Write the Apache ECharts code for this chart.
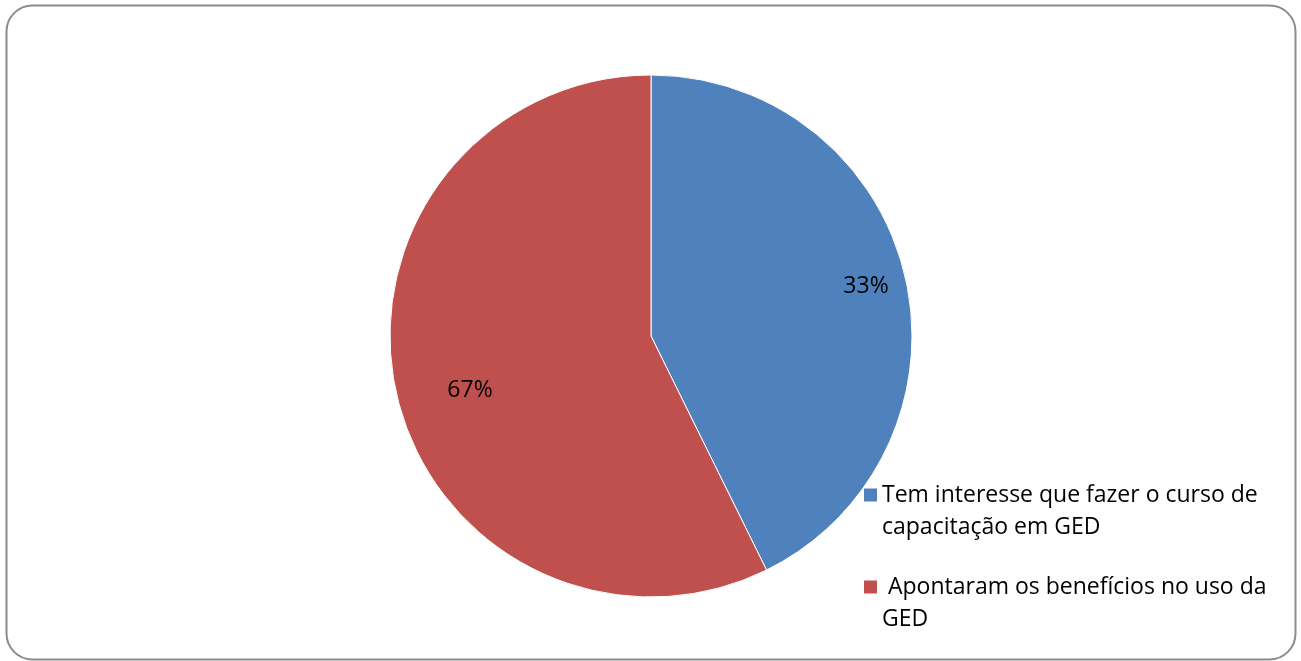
<!DOCTYPE html>
<html>
<head>
<meta charset="utf-8">
<script src="https://cdn.jsdelivr.net/npm/echarts@6/dist/echarts.min.js"></script>
<style>
  html, body { margin: 0; padding: 0; background: #fff; }
  #chart { width: 1301px; height: 661px; }
</style>
</head>
<body>
<div id="chart"></div>
<script>
// categorias e valores (fatias; rótulos como aparecem no gráfico)
var categories = ['Tem interesse que fazer o curso de capacitação em GED', ' Apontaram os benefícios no uso da GED'];
var values = [42.7, 57.3];
var labelTexts = ['33%', '67%'];
var legendLines = {
    'Tem interesse que fazer o curso de capacitação em GED': 'Tem interesse que fazer o curso de\ncapacitação em GED',
    ' Apontaram os benefícios no uso da GED': ' Apontaram os benefícios no uso da\nGED'
};
var colors = ['#4F81BD', '#C0504D'];

// deslocamento dos rótulos a partir da posição "inside"
var labelShift = [[85, -19], [-51, 24]];

var font = '"Open Sans", sans-serif';
// quadrado no topo do ícone, alinhado com a primeira linha do texto
var legendIcon = 'path://M0,0h13v13h-13z M0,45L13,45Z';

var chart = echarts.init(document.getElementById('chart'));

chart.setOption({
    animation: false,
    color: colors,
    textStyle: { fontFamily: font },
    graphic: [{
        type: 'rect',
        shape: { x: 6.5, y: 5.5, width: 1289, height: 654, r: 26 },
        style: { fill: 'none', stroke: '#8c8c8c', lineWidth: 2 },
        z: -1
    }],
    legend: {
        orient: 'vertical',
        left: 864,
        top: 479,
        padding: 0,
        itemWidth: 13,
        itemHeight: 45,
        itemGap: 28,
        icon: legendIcon,
        itemStyle: { borderWidth: 0 },
        formatter: function (name) {
            return legendLines[name];
        },
        textStyle: {
            fontSize: 23,
            lineHeight: 32,
            color: '#000',
            fontFamily: font
        },
        data: categories
    },
    series: [{
        type: 'pie',
        center: [651, 336],
        radius: 261,
        startAngle: 90,
        clockwise: true,
        itemStyle: { borderColor: '#fff', borderWidth: 1 },
        label: {
            position: 'inside',
            fontSize: 23,
            color: '#000',
            fontFamily: font,
            formatter: function (p) {
                return labelTexts[p.dataIndex];
            }
        },
        labelLayout: function (p) {
            return { dx: labelShift[p.dataIndex][0], dy: labelShift[p.dataIndex][1] };
        },
        emphasis: { disabled: true },
        data: categories.map(function (c, i) {
            return { name: c, value: values[i] };
        })
    }]
});
</script>
</body>
</html>
